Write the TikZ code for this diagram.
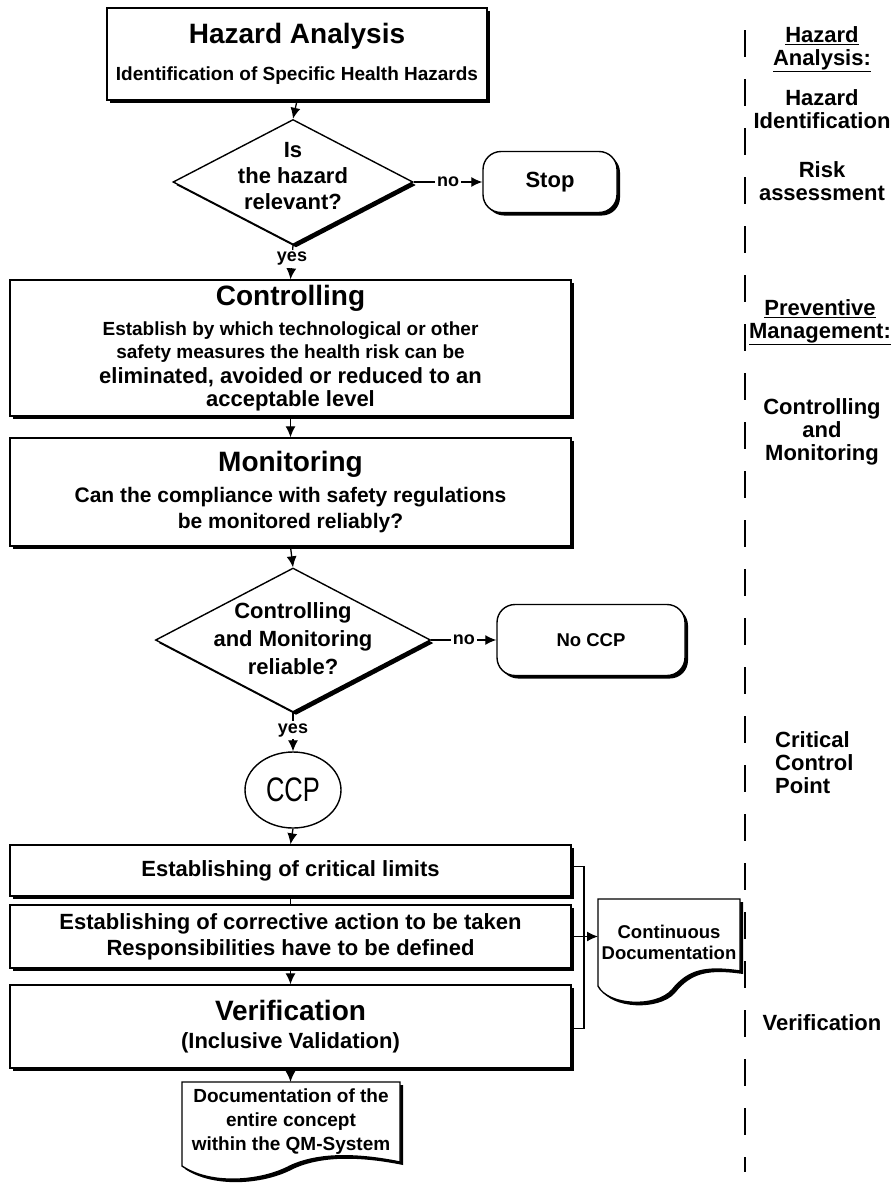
\documentclass[tikz,border=0pt]{standalone}
\usepackage{fontspec}
\setmainfont{Liberation Sans}
\usepackage{graphicx}
\usetikzlibrary{shapes.geometric,shadows,arrows.meta,calc}
\newcommand{\fsz}[2]{\fontsize{#1}{#2}\selectfont}
\begin{document}
\begin{tikzpicture}[x=1pt,y=-1pt,
  shd/.style={drop shadow={shadow xshift=3pt,shadow yshift=-3pt,opacity=1,fill=black}},
  box/.style={rectangle,draw,line width=1.4pt,fill=white,shd,align=center,inner sep=0pt,font=\bfseries\fsz{19}{23}},
  rbox/.style={rectangle,rounded corners=18pt,draw,line width=1.4pt,fill=white,shd,inner sep=0pt,font=\bfseries\fsz{22}{26}},
  dia/.style={diamond,draw,line width=1.4pt,fill=white,shd,inner sep=0pt},
  dtext/.style={align=center,inner sep=0pt,font=\bfseries\fsz{22}{26}},
  ell/.style={ellipse,draw,line width=1.4pt,fill=white,inner sep=0pt},
  arr/.style={line width=1.3pt,-{Latex[length=11pt,width=10pt]}},
  lbl/.style={fill=white,inner sep=2pt,font=\bfseries\fsz{18}{18}},
  doctxt/.style={rectangle,align=center,inner sep=0pt,font=\bfseries\fsz{19}{24}},
  docl/.style={draw,line width=1.4pt,fill=white,shd},
  rt/.style={align=center,inner sep=0pt,font=\bfseries\fsz{22}{23}},
]
\useasboundingbox[fill=white] (0,0) rectangle (894,1183);

% right column dashed divider
\coordinate (dtop) at (745,30);
\coordinate (dbot) at (745,1172);
\draw[line width=2pt,dash pattern=on 27pt off 22pt] (dtop) -- (dbot);

% Hazard analysis box
\node[box,minimum width=380,minimum height=92] (ha) at (297,54)
  {{\fsz{28}{28}Hazard Analysis}\\[13.5pt]Identification of Specific Health Hazards};

% decision 1
\node[dia,minimum width=240,minimum height=125] (d1) at (293,182) {};
\node[dtext] (d1t) at (293,176) {Is\\the hazard\\relevant?};
\node[rbox,minimum width=134,minimum height=61] (stop) at (550,182) {Stop};

% controlling
\node[box,minimum width=561,minimum height=136] (ctrl) at (290.5,348)
  {{\fsz{28}{28}Controlling}\\[7.5pt]
   Establish by which technological or other\\
   safety measures the health risk can be\\[2pt]
   {\fsz{22}{22}eliminated, avoided or reduced to an}\\
   {\fsz{22}{22}acceptable level}};

% monitoring
\node[box,minimum width=561,minimum height=108,font=\bfseries\fsz{21}{26}] (mon) at (290.5,492)
  {{\fsz{28}{28}Monitoring}\\[5pt]
   Can the compliance with safety regulations\\
   be monitored reliably?};

% decision 2
\node[dia,minimum width=275,minimum height=144] (d2) at (293,640) {};
\node[dtext,font=\bfseries\fsz{22}{28}] (d2t) at (293,639) {Controlling\\and Monitoring\\reliable?};
\node[rbox,minimum width=188,minimum height=71,font=\bfseries\fsz{18.5}{22}] (noccp) at (591,640) {No CCP};

% CCP
\node[ell,minimum width=96,minimum height=76] (ccp) at (293,790)
  {\scalebox{0.75}[1]{\mdseries\fsz{34}{34}CCP}};

% lower boxes
\node[box,minimum width=561,minimum height=51,font=\bfseries\fsz{22}{26}] (crit) at (290.5,870.5)
  {Establishing of critical limits};
\node[box,minimum width=561,minimum height=63,font=\bfseries\fsz{22}{26}] (corr) at (290.5,936.5)
  {Establishing of corrective action to be taken\\Responsibilities have to be defined};
\node[box,minimum width=561,minimum height=83,font=\bfseries\fsz{22}{28}] (verif) at (290.5,1026.5)
  {{\fsz{28}{28}Verification}\\(Inclusive Validation)};

% document 1
\coordinate (doc1nw) at (182,1082);
\draw[docl] (doc1nw) -- ($(doc1nw)+(218,0)$) -- ($(doc1nw)+(218,80)$)
  .. controls ($(doc1nw)+(178,72)$) and ($(doc1nw)+(138,70)$) .. ($(doc1nw)+(108,84)$)
  .. controls ($(doc1nw)+(78,100)$) and ($(doc1nw)+(28,103)$) .. ($(doc1nw)+(0,84)$) -- cycle;
\node[doctxt] (doc1) at (291,1122) {Documentation of the\\entire concept\\within the QM-System};

% document 2
\coordinate (doc2nw) at (598,899);
\draw[docl] (doc2nw) -- ($(doc2nw)+(142,0)$) -- ($(doc2nw)+(142,72)$)
  .. controls ($(doc2nw)+(107,67)$) and ($(doc2nw)+(90,71)$) .. ($(doc2nw)+(74,91)$)
  .. controls ($(doc2nw)+(58,109)$) and ($(doc2nw)+(10,107)$) .. ($(doc2nw)+(0,87)$) -- cycle;
\node[doctxt,font=\bfseries\fsz{18.5}{21}] (doc2) at (669,942) {Continuous\\Documentation};

% connectors
\draw[arr] (ha.south) -- (d1.north);
\draw[arr] (d1.east) -- node[lbl] {no} (stop.west);
\draw[arr] (d1.south) -- node[lbl,pos=0.4] {yes} (ctrl.north);
\draw[arr] (ctrl.south) -- (mon.north);
\draw[arr] (mon.south) -- (d2.north);
\draw[arr] (d2.east) -- node[lbl] {no} (noccp.west);
\draw[arr] (d2.south) -- node[lbl,pos=0.45] {yes} (ccp.north);
\draw[arr] (ccp.south) -- (crit.north);
\draw[line width=1.3pt] (crit.south) -- (corr.north);
\draw[arr] (corr.south) -- (verif.north);
\draw[arr] (verif.south) -- (verif.south |- doc1nw);

% bracket to continuous documentation
\coordinate (brx) at (584,0);
\draw[line width=1.3pt] ([yshift=4pt]crit.east) -- ([yshift=4pt]crit.east -| brx) -- ([yshift=-2pt]verif.east -| brx) -- ([yshift=-2pt]verif.east);
\draw[arr] (corr.east) -- (corr.east -| doc2nw);

% right column
\node[rt] (rt1) at (822,49) {\underline{Hazard}\\\underline{Analysis:}};
\node[rt] (rt2) at (822,109) {Hazard\\Identification};
\node[rt] (rt3) at (822,181) {Risk\\assessment};
\node[rt] (rt4) at (820,322) {\underline{Preventive}\\\underline{Management:}};
\node[rt] (rt5) at (822,432) {Controlling\\and\\Monitoring};
\node[rt,align=left,anchor=west] (rt6) at (775,763) {Critical\\Control\\Point};
\node[rt] (rt7) at (822,1023) {Verification};
\end{tikzpicture}
\end{document}
